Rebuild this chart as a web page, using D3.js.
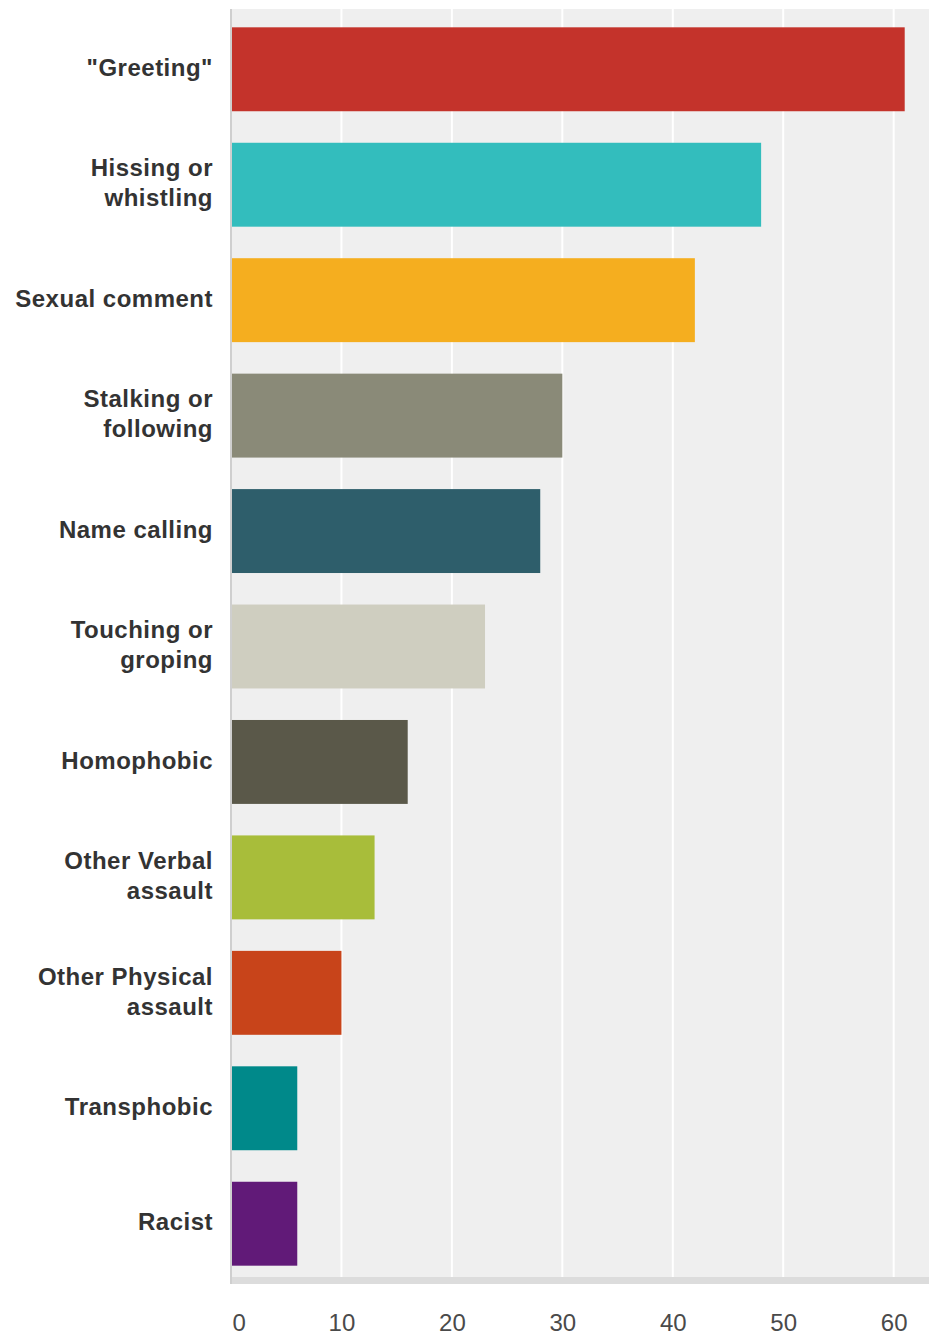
<!DOCTYPE html>
<html>
<head>
<meta charset="utf-8">
<script src="https://cdn.jsdelivr.net/npm/d3@7"></script>
<style>
  html, body { margin: 0; padding: 0; background: #ffffff; }
  svg { display: block; }
</style>
</head>
<body>
<svg id="chart" width="929" height="1336"></svg>
<script>
const categories = [
  ["\"Greeting\""],
  ["Hissing or", "whistling"],
  ["Sexual comment"],
  ["Stalking or", "following"],
  ["Name calling"],
  ["Touching or", "groping"],
  ["Homophobic"],
  ["Other Verbal", "assault"],
  ["Other Physical", "assault"],
  ["Transphobic"],
  ["Racist"]
];
const values = [61, 48, 42, 30, 28, 23, 16, 13, 10, 6, 6];
const colors = ["#c4332b", "#33bdbd", "#f5ae1f", "#8a8a78", "#2e5e6b", "#cfcec0",
                "#5a5849", "#a8bd3a", "#c8441a", "#00898a", "#611a78"];
const tickValues = [0, 10, 20, 30, 40, 50, 60];

const svg = d3.select("#chart");
const plotLeft = 231, plotRight = 929, plotTop = 9, plotBottom = 1277;

const x = d3.scaleLinear().domain([0, 63.2]).range([plotLeft, plotRight]);
const y = d3.scaleBand().domain(d3.range(categories.length))
  .range([10, 1283]).paddingInner(0.273).paddingOuter(0.15);

// plot background
svg.append("rect").attr("x", plotLeft).attr("y", plotTop)
  .attr("width", plotRight - plotLeft).attr("height", plotBottom - plotTop)
  .attr("fill", "#efefef");

// gridlines
svg.append("g").selectAll("line").data(tickValues.slice(1)).join("line")
  .attr("x1", d => x(d)).attr("x2", d => x(d))
  .attr("y1", plotTop).attr("y2", plotBottom)
  .attr("stroke", "#ffffff").attr("stroke-width", 2);

// bars
svg.append("g").selectAll("rect").data(values).join("rect")
  .attr("x", x(0))
  .attr("y", (d, i) => y(i))
  .attr("width", d => x(d) - x(0))
  .attr("height", y.bandwidth())
  .attr("fill", (d, i) => colors[i]);

// bottom band and left axis line
svg.append("rect").attr("x", plotLeft - 1).attr("y", plotBottom)
  .attr("width", plotRight - plotLeft + 1).attr("height", 7).attr("fill", "#dcdcdc");
svg.append("rect").attr("x", plotLeft - 1).attr("y", plotTop)
  .attr("width", 2).attr("height", plotBottom + 7 - plotTop).attr("fill", "#cfcfcf");

// x tick labels
const xAxis = d3.axisBottom(x).tickValues(tickValues).tickSize(0).tickPadding(0);
const gx = svg.append("g").attr("transform", `translate(0, 1331)`).call(xAxis);
gx.select(".domain").remove();
gx.selectAll("text")
  .attr("y", 0).attr("dy", 0)
  .attr("font-family", "'Liberation Sans', Arial, sans-serif")
  .attr("font-size", 24)
  .attr("fill", "#4a4a4a");
gx.selectAll(".tick").filter(d => d === 0).select("text")
  .attr("text-anchor", "start").attr("x", 1);

// category labels
const labels = svg.append("g").selectAll("text").data(categories).join("text")
  .attr("text-anchor", "end")
  .attr("font-family", "'Liberation Sans', Arial, sans-serif")
  .attr("font-weight", "bold")
  .attr("font-size", 24)
  .attr("letter-spacing", "0.5px")
  .attr("fill", "#333");
labels.each(function(lines, i) {
  const cy = y(i) + y.bandwidth() / 2;
  const lh = 30;
  const start = cy - (lines.length - 1) * lh / 2;
  d3.select(this).selectAll("tspan").data(lines).join("tspan")
    .attr("x", 213)
    .attr("y", (d, j) => start + j * lh)
    .attr("dy", "0.28em")
    .text(d => d);
});
</script>
</body>
</html>
